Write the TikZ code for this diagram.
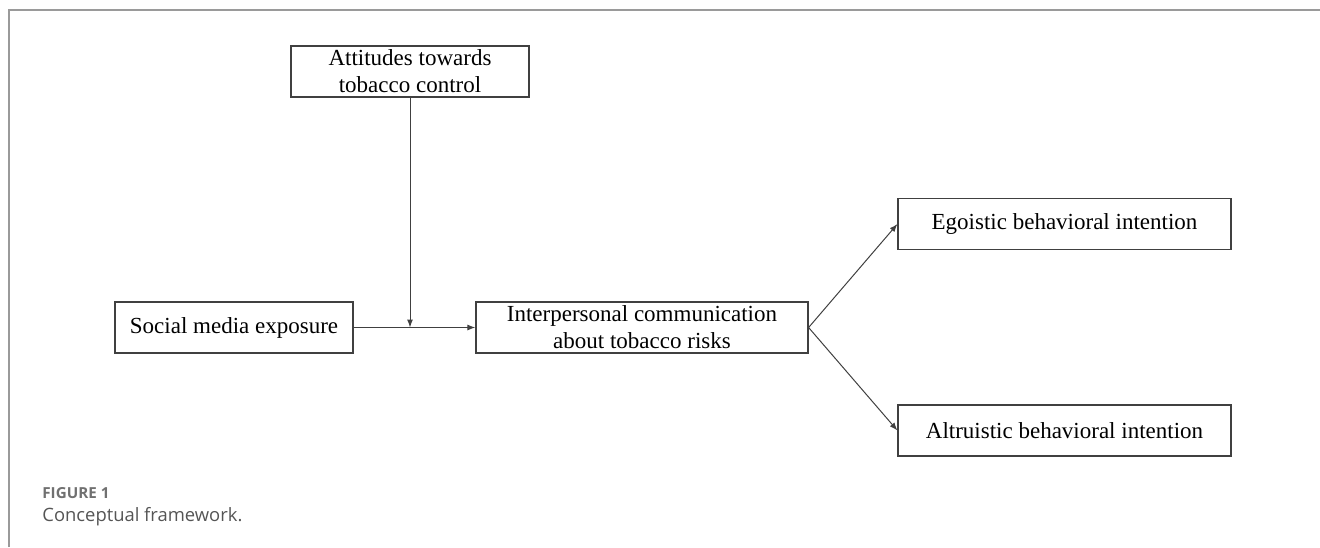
\documentclass[tikz,border=0pt]{standalone}
\usepackage{fontspec}
\setmainfont{Liberation Serif}
\newfontfamily\capfont{Open Sans}
\usetikzlibrary{arrows.meta}
\definecolor{framegray}{HTML}{9A9A9A}
\definecolor{boxline}{HTML}{404040}
\definecolor{capgray}{HTML}{707070}
\definecolor{captext}{HTML}{555555}
\tikzset{
  px/.style={x=0.5pt,y=-0.5pt},
  varbox/.style={draw=boxline, line width=0.6pt, minimum height=25.5pt, inner sep=1pt,
    align=center, font=\fontsize{11.5}{13.5}\selectfont},
  link/.style={draw=boxline, line width=0.5pt, -{Latex[length=4pt,width=3pt]}},
  plain/.style={draw=boxline, line width=0.5pt}
}
\begin{document}
\begin{tikzpicture}[px]
\useasboundingbox (0,0) rectangle (1320,547);
\draw[framegray, line width=0.8pt] (9,547) -- (9,10) -- (1320,10);
\node[varbox, minimum width=119pt] (att) at (410,71.5) {Attitudes towards\\tobacco control};
\node[varbox, minimum width=119pt] (soc) at (234,327.5) {Social media exposure};
\node[varbox, minimum width=166pt] (inter) at (642,327.5) {Interpersonal communication\\about tobacco risks};
\node[varbox, minimum width=166.5pt] (ego) at (1064.5,224) {Egoistic behavioral intention};
\node[varbox, minimum width=166.5pt] (alt) at (1064.5,430.5) {Altruistic behavioral intention};
\coordinate (j) at (att.south |- soc.east);
\draw[link] (soc.east) -- (inter.west);
\draw[link] (att.south) -- (j);
\draw[link] (inter.east) -- (ego.west);
\draw[link] (inter.east) -- (alt.west);
\node[anchor=west, inner sep=0pt, text=capgray, font=\capfont\fontsize{7.6}{9}\selectfont\bfseries] (figlabel) at (42,493) {FIGURE 1};
\node[anchor=west, inner sep=0pt, text=captext, font=\capfont\fontsize{9.2}{11}\selectfont] (figcap) at (42,517) {Conceptual framework.};
\end{tikzpicture}
\end{document}
